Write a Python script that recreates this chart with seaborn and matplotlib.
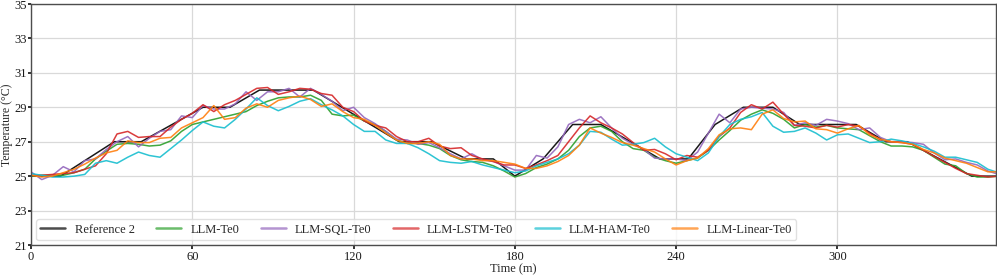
import numpy as np
import pandas as pd
import matplotlib
matplotlib.use("Agg")
import matplotlib.pyplot as plt
import seaborn as sns

# ---------------- data ----------------
ref_time = [0, 11, 31, 41, 64, 74, 85, 105, 137, 149, 162, 172, 180, 190.5, 201.5, 212,
            234, 244.5, 254.5, 265, 276, 286, 307, 318, 326, 350, 360]
ref_temp = [25, 25, 27, 27, 29, 29, 30, 30, 27, 27, 26, 26, 25, 26, 28, 28,
            26, 26, 28, 29, 29, 28, 28, 27, 27, 25, 25]

time = list(range(0, 361, 4))

llm_te0 = [25.0, 25.05, 25.05, 25.05, 25.2, 25.4, 26.0, 26.45, 26.85, 26.9, 26.85, 26.75, 26.8,
           27.05, 27.6, 28.0, 28.15, 28.3, 28.45, 28.6, 28.75, 29.1, 29.35, 29.55, 29.6, 29.6,
           29.7, 29.4, 28.6, 28.5, 28.55, 28.2, 28.0, 27.6, 27.1, 26.9, 26.9, 26.8, 26.6, 26.2,
           25.95, 25.85, 25.8, 25.6, 25.3, 24.95, 25.15, 25.5, 25.7, 26.0, 26.5, 27.3, 27.8,
           27.9, 27.6, 27.0, 26.6, 26.5, 26.1, 25.9, 25.75, 25.9, 26.05, 26.5, 27.1, 27.65,
           28.25, 28.6, 28.85, 28.65, 28.3, 27.8, 28.0, 27.85, 27.95, 27.8, 27.75, 27.7, 27.35,
           27.0, 26.75, 26.75, 26.7, 26.5, 26.1, 25.7, 25.6, 25.15, 24.95, 24.95, 25.0]

llm_sql = [25.25, 24.8, 25.05, 25.55, 25.25, 25.9, 26.0, 26.55, 27.0, 27.3, 26.7, 27.2, 27.6,
           27.7, 28.5, 28.4, 29.1, 28.9, 28.9, 29.2, 29.9, 29.4, 29.9, 29.9, 30.1, 29.6, 30.1,
           29.75, 29.35, 28.8, 29.0, 28.4, 28.05, 27.6, 27.15, 27.1, 26.85, 26.95, 26.65, 26.3,
           26.0, 26.3, 25.95, 25.85, 25.6, 25.35, 25.35, 26.2, 26.05, 26.7, 28.0, 28.3, 28.1,
           28.45, 27.8, 27.2, 26.85, 26.55, 26.05, 26.0, 26.0, 25.9, 26.4, 27.5, 28.6, 28.1,
           28.9, 29.0, 28.95, 28.9, 28.7, 27.95, 28.1, 27.95, 28.3, 28.2, 28.05, 27.7, 27.8,
           27.25, 27.0, 27.0, 26.95, 26.85, 26.35, 25.95, 26.0, 25.8, 25.65, 25.3, 25.1]

llm_lstm = [25.05, 25.05, 25.1, 25.15, 25.2, 25.4, 25.6, 26.3, 27.45, 27.6, 27.25, 27.3, 27.3,
            27.85, 28.3, 28.65, 29.15, 28.75, 29.15, 29.4, 29.75, 30.1, 30.15, 29.75, 29.9,
            30.1, 30.05, 29.8, 29.7, 29.0, 28.75, 28.2, 27.95, 27.8, 27.3, 27.0, 27.0, 27.2,
            26.75, 26.6, 26.65, 26.2, 26.0, 25.85, 25.65, 25.65, 25.45, 25.65, 25.9, 26.2, 27.0,
            27.8, 28.5, 28.1, 27.8, 27.45, 26.95, 26.5, 26.55, 26.3, 25.95, 26.2, 26.1, 26.5,
            27.3, 27.8, 28.7, 29.15, 28.9, 29.3, 28.6, 27.95, 27.9, 27.8, 27.95, 27.85, 28.0,
            27.9, 27.5, 27.1, 27.0, 26.95, 26.85, 26.5, 26.15, 25.8, 25.45, 25.15, 25.05, 24.95,
            25.0]

llm_ham = [25.15, 25.05, 24.95, 24.95, 25.0, 25.1, 25.75, 25.9, 25.75, 26.1, 26.4, 26.2, 26.1,
           26.6, 27.1, 27.65, 28.15, 27.9, 27.8, 28.3, 28.9, 29.55, 29.1, 28.8, 29.05, 29.35,
           29.5, 29.15, 28.85, 28.5, 28.0, 27.6, 27.6, 27.1, 26.9, 26.9, 26.65, 26.3, 25.9, 25.8,
           25.75, 25.85, 25.65, 25.5, 25.35, 25.2, 25.3, 25.6, 25.8, 26.0, 26.3, 26.8, 27.6,
           27.55, 27.15, 26.8, 26.85, 26.95, 27.2, 26.7, 26.3, 26.1, 25.9, 26.35, 27.3, 28.0,
           28.3, 28.45, 28.7, 27.9, 27.55, 27.6, 27.8, 27.5, 27.1, 27.4, 27.45, 27.2, 26.95,
           27.0, 27.15, 27.05, 26.9, 26.7, 26.45, 26.1, 26.1, 25.95, 25.8, 25.4, 25.2]

llm_linear = [25.05, 24.95, 25.0, 25.2, 25.4, 25.7, 26.05, 26.35, 26.5, 27.05, 26.95, 26.95,
              27.2, 27.25, 27.8, 28.1, 28.4, 29.1, 28.3, 28.4, 28.95, 29.2, 29.0, 29.4, 29.55,
              29.65, 29.45, 29.05, 29.2, 28.75, 28.4, 28.3, 27.95, 27.5, 27.1, 26.9, 26.9, 27.0,
              26.85, 26.2, 26.0, 26.0, 25.9, 25.9, 25.8, 25.7, 25.45, 25.45, 25.6, 25.85, 26.2,
              26.8, 27.8, 27.5, 27.25, 26.95, 26.8, 26.6, 26.4, 26.0, 25.65, 25.9, 26.05, 26.6,
              27.4, 27.75, 27.8, 27.7, 28.6, 28.85, 28.35, 28.15, 28.2, 27.75, 27.7, 27.5, 27.75,
              27.95, 27.4, 27.15, 27.0, 26.95, 26.85, 26.55, 26.35, 26.05, 25.9, 25.75, 25.5,
              25.25, 25.25]

series_names = ["Reference 2", "LLM-Te0", "LLM-SQL-Te0", "LLM-LSTM-Te0", "LLM-HAM-Te0",
                "LLM-Linear-Te0"]
colors = ["#000000", "#2ca02c", "#9467bd", "#d62728", "#17becf", "#ff7f0e"]

x_ticks = [0, 60, 120, 180, 240, 300]
y_ticks = [21, 23, 25, 27, 29, 31, 33, 35]

# ---------------- frame ----------------
frames = [pd.DataFrame({"Time": ref_time, "Temp": ref_temp, "Series": series_names[0]})]
for name, vals in zip(series_names[1:], [llm_te0, llm_sql, llm_lstm, llm_ham, llm_linear]):
    frames.append(pd.DataFrame({"Time": time, "Temp": vals, "Series": name}))
df = pd.concat(frames, ignore_index=True)

sns.set_theme(style="whitegrid")
plt.rcParams["font.family"] = ["Liberation Serif", "DejaVu Serif"]
plt.rcParams.update({
    "axes.edgecolor": "0.3",
    "axes.linewidth": 1.0,
    "grid.color": "0.85",
    "grid.linewidth": 0.9,
    "xtick.bottom": True,
    "ytick.left": True,
    "xtick.major.size": 3,
    "ytick.major.size": 2.5,
    "xtick.color": "0.1",
    "ytick.color": "0.1",
})

fig = plt.figure(figsize=(9.97, 2.75), dpi=100)
ax = fig.add_axes([31 / 997, 1 - 245 / 275, 965 / 997, 241 / 275])

sns.lineplot(data=df, x="Time", y="Temp", hue="Series", hue_order=series_names,
             palette=dict(zip(series_names, colors)), estimator=None, sort=False,
             linewidth=1.1, alpha=0.9, ax=ax)

ax.set_xlim(0, 359)
ax.set_ylim(21, 35)
ax.set_xticks(x_ticks)
ax.set_yticks(y_ticks)
ax.tick_params(labelsize=9, pad=1.5)
ax.tick_params(axis="y", pad=0.5)
ax.set_xlabel("Time (m)", fontsize=9, labelpad=0)
ax.set_ylabel("Temperature (°C)", fontsize=8.5)
ax.yaxis.set_label_coords(-0.0185, 0.5)
for s in ax.spines.values():
    s.set_visible(True)

leg = ax.legend(loc="lower left", ncol=6, fontsize=9, handlelength=2.0,
                columnspacing=1.7, frameon=True, borderaxespad=0.4,
                borderpad=0.35, handletextpad=0.75)
leg.get_frame().set_edgecolor("0.85")
for h in leg.get_lines():
    h.set_alpha(0.7)
    h.set_linewidth(1.8)

fig.savefig("out.png", dpi=100)
